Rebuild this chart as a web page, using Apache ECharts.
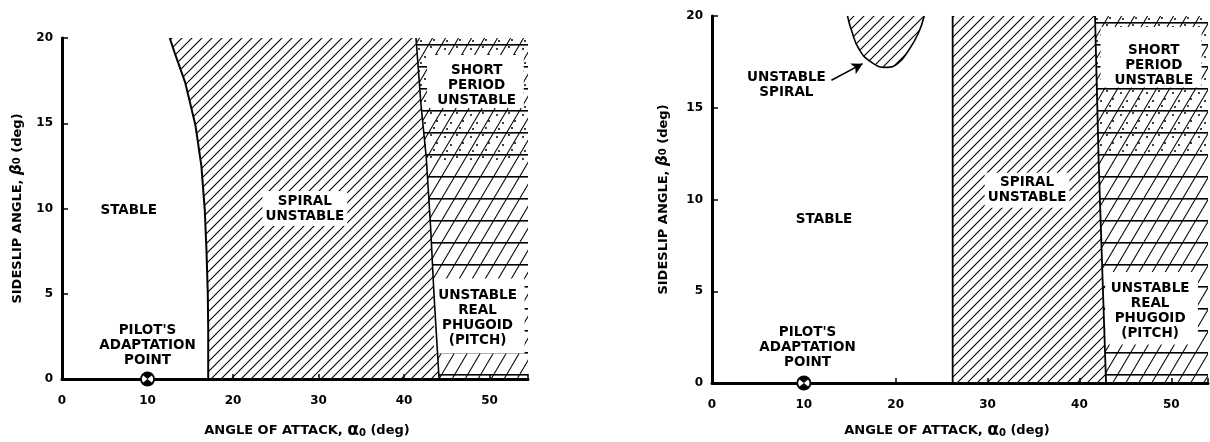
<!DOCTYPE html>
<html><head><meta charset="utf-8">
<script src="https://cdn.jsdelivr.net/npm/echarts@6/dist/echarts.min.js"></script>
<style>html,body{margin:0;padding:0;background:#fff}#c{width:1210px;height:442px}</style>
</head><body><div id="c"></div>
<script>
// ---------- data ----------
const yTickLabels = ['0','5','10','15','20'];
const xTickLabels = ['0','10','20','30','40','50'];
const xMaxLeft = 54.5, xMaxRight = 54, yMax = 20;

// Left panel boundaries (alpha, beta)
const leftStableBoundary = [[17.1,0],[17.1,3],[17.05,5],[16.9,7.5],[16.7,9.9],[16.3,12.5],[15.6,14.9],[14.4,17.4],[13.2,19.1],[12.6,20]];
const leftUnstableBoundary = [[41.4,20],[42.0,16],[42.6,13],[43.1,9],[43.5,5],[44.1,0]];
const leftDotLimit = 12.8;
const leftShortBox = [[42.7,15.9],[54.0,19.0]];
const leftPhugoidBox = [[43.5,1.5],[54.1,5.9]];
const leftPilotPoint = [10,0];

// Right panel boundaries
const rightSpiralPocket = [[14.75,20],[15.2,19.2],[16.0,18.2],[17.3,17.5],[19.0,17.2],[20.2,17.4],[21.5,18.2],[22.5,19.1],[23.1,20]];
const rightSpiralEdge = [[26.2,0],[26.2,20]];
const rightUnstableBoundary = [[41.7,20],[42.1,12],[42.5,6],[42.9,0]];
const rightDotLimit = 12.5;
const rightShortBox = [[42.3,16.1],[53.3,19.4]];
const rightPhugoidBox = [[42.8,2.1],[52.9,6.05]];
const rightPilotPoint = [10,0];
const rightArrow = [[13.0,16.5],[16.4,17.4]];

// Annotations: [alpha, beta, text]
const leftNotes = [
  [7.8, 9.9, 'STABLE'],
  [28.4, 10.0, 'SPIRAL\nUNSTABLE'],
  [48.5, 17.23, 'SHORT\nPERIOD\nUNSTABLE'],
  [48.6, 3.57, 'UNSTABLE\nREAL\nPHUGOID\n(PITCH)'],
  [10.0, 1.98, "PILOT'S\nADAPTATION\nPOINT"]
];
const rightNotes = [
  [12.2, 8.9, 'STABLE'],
  [34.3, 10.5, 'SPIRAL\nUNSTABLE'],
  [48.1, 17.28, 'SHORT\nPERIOD\nUNSTABLE'],
  [47.7, 3.95, 'UNSTABLE\nREAL\nPHUGOID\n(PITCH)'],
  [10.4, 1.91, "PILOT'S\nADAPTATION\nPOINT"],
  [8.1, 16.25, 'UNSTABLE\nSPIRAL']
];

// ---------- hatch patterns ----------
function makeCanvas(w,h){const c=document.createElement('canvas');c.width=w;c.height=h;return c;}
function diagPattern(s, lw){
  const c=makeCanvas(s,s), g=c.getContext('2d');
  g.strokeStyle='#000'; g.lineWidth=lw; g.lineCap='square';
  for(let i=-1;i<=1;i++){g.beginPath();g.moveTo(i*s,s);g.lineTo((i+1)*s,0);g.stroke();}
  return {image:c, repeat:'repeat'};
}
function gridDiagPattern(w,h,lw){
  const c=makeCanvas(w,h), g=c.getContext('2d');
  g.strokeStyle='#000'; g.lineWidth=lw;
  for(let i=-1;i<=1;i++){g.beginPath();g.moveTo(i*w,h);g.lineTo((i+1)*w,0);g.stroke();}
  g.lineWidth=1.6; g.beginPath(); g.moveTo(0,0.8); g.lineTo(w,0.8); g.stroke();
  return {image:c, repeat:'repeat'};
}
function dotPattern(){
  const c=makeCanvas(26,22), g=c.getContext('2d');
  g.fillStyle='#000';
  [[3,5],[15,3],[9,13],[21,11],[5,19],[18,18]].forEach(p=>{g.beginPath();g.arc(p[0],p[1],1.0,0,Math.PI*2);g.fill();});
  return {image:c, repeat:'repeat'};
}
const hatchSpiral = diagPattern(10, 1.1);
const hatchMixed = gridDiagPattern(13, 22, 1.1);
const hatchDots = dotPattern();

const FONT='"DejaVu Sans", "Liberation Sans", Arial, sans-serif';
const NOTE_FONT='bold 13.5px "DejaVu Sans", sans-serif';

// ---------- helpers ----------
function polygon(pts, fill, xi, yi, z){
  return {type:'custom', xAxisIndex:xi, yAxisIndex:yi, z:z, clip:true, silent:true, data:[0],
    renderItem:(p,api)=>({type:'polygon', shape:{points:pts.map(q=>api.coord(q))}, style:{fill:fill, stroke:'none'}})};
}
function rectPts(b){return [[b[0][0],b[0][1]],[b[1][0],b[0][1]],[b[1][0],b[1][1]],[b[0][0],b[1][1]]];}
function line(pts, xi, yi, w, z, smooth){
  return {type:'line', xAxisIndex:xi, yAxisIndex:yi, data:pts, symbol:'none', smooth:smooth||false, z:z, silent:true,
    lineStyle:{color:'#000', width:w}};
}
function notes(list, xi, yi){
  return {type:'custom', xAxisIndex:xi, yAxisIndex:yi, z:20, silent:true, clip:false, data:list.map(n=>[n[0],n[1]]),
    renderItem:(p,api)=>{
      const pt=api.coord([api.value(0),api.value(1)]);
      const txt=list[p.dataIndex][2];
      const spiral = txt.startsWith('SPIRAL');
      return {type:'text', x:pt[0], y:pt[1], style:{text:txt, fill:'#000', align:'center', verticalAlign:'middle',
        font:NOTE_FONT, lineHeight:15,
        backgroundColor: spiral ? '#fff' : null, padding: spiral ? [3,3,2,3] : 0}};
    }};
}
function pilot(pt, xi, yi){
  return {type:'custom', xAxisIndex:xi, yAxisIndex:yi, z:25, silent:true, clip:false, data:[pt],
    renderItem:(p,api)=>{
      const c=api.coord([api.value(0),api.value(1)]); const r=7.5;
      return {type:'group', children:[
        {type:'circle', shape:{cx:c[0],cy:c[1],r:r}, style:{fill:'#000'}},
        {type:'sector', shape:{cx:c[0],cy:c[1],r0:0,r:r-2,startAngle:Math.PI*0.78,endAngle:Math.PI*1.22}, style:{fill:'#fff'}},
        {type:'sector', shape:{cx:c[0],cy:c[1],r0:0,r:r-2,startAngle:-Math.PI*0.22,endAngle:Math.PI*0.22}, style:{fill:'#fff'}}
      ]};
    }};
}

// ---------- polygons ----------
const leftSpiralPoly = leftStableBoundary.concat(leftUnstableBoundary);
const leftMixedPoly = leftUnstableBoundary.concat([[xMaxLeft+1,0],[xMaxLeft+1,yMax]]);
const leftDotPoly = leftUnstableBoundary.filter(p=>p[1]>=leftDotLimit).concat([[42.7,leftDotLimit],[xMaxLeft+1,leftDotLimit],[xMaxLeft+1,yMax]]);
const rightSpiralPoly = [rightSpiralEdge[0],rightSpiralEdge[1]].concat(rightUnstableBoundary);
const rightMixedPoly = rightUnstableBoundary.concat([[xMaxRight+1,0],[xMaxRight+1,yMax]]);
const rightDotPoly = rightUnstableBoundary.filter(p=>p[1]>=rightDotLimit).concat([[42.2,rightDotLimit],[xMaxRight+1,rightDotLimit],[xMaxRight+1,yMax]]);

const RICH = {
  g:{fontSize:17, fontFamily:FONT, color:'#000'},
  b:{fontSize:15, fontStyle:'italic', fontFamily:FONT, color:'#000'},
  s:{fontSize:10, fontFamily:FONT, fontWeight:'bold', padding:[6,0,0,0], color:'#000'},
  sy:{fontSize:10, fontFamily:FONT, fontWeight:'bold', color:'#000'},
  d:{fontSize:13, fontFamily:FONT, fontWeight:'bold', color:'#000'}
};
function xAx(grid, max, gap, pad){
  return [{type:'value', gridIndex:grid, min:0, max:max, interval:10, z:10,
      name:'ANGLE OF ATTACK, {g|α}{s|0} {d|(deg)}', nameLocation:'middle', nameGap:gap,
      nameTextStyle:{color:'#000', fontFamily:FONT, fontWeight:'bold', fontSize:13, padding:pad, rich:RICH},
      axisLine:{show:true, lineStyle:{color:'#000', width:3}},
      axisTick:{show:true, inside:true, length:5, lineStyle:{color:'#000', width:1.5}},
      axisLabel:{color:'#000', fontFamily:FONT, fontWeight:'bold', fontSize:12, margin:16, formatter:v=>xTickLabels[v/10]},
      splitLine:{show:false}},
    {type:'value', gridIndex:grid, min:0, max:max, position:'top', z:10,
      axisLine:{show:true, lineStyle:{color:'#000', width:2}}, axisTick:{show:false}, axisLabel:{show:false}, splitLine:{show:false}}];
}
function yAx(grid, gap){
  return [{type:'value', gridIndex:grid, min:0, max:yMax, interval:5, z:10,
      name:'SIDESLIP ANGLE, {b|β}{sy|0} {d|(deg)}', nameLocation:'middle', nameGap:gap, nameRotate:90,
      nameTextStyle:{color:'#000', fontFamily:FONT, fontWeight:'bold', fontSize:13, rich:RICH},
      axisLine:{show:true, lineStyle:{color:'#000', width:3}},
      axisTick:{show:true, inside:true, length:6, lineStyle:{color:'#000', width:1.5}},
      axisLabel:{color:'#000', fontFamily:FONT, fontWeight:'bold', fontSize:12, margin:9, formatter:v=>yTickLabels[v/5]},
      splitLine:{show:false}},
    {type:'value', gridIndex:grid, min:0, max:yMax, position:'right', z:10,
      axisLine:{show:true, lineStyle:{color:'#000', width:1.5}}, axisTick:{show:false}, axisLabel:{show:false}, splitLine:{show:false}}];
}

const option = {
  animation:false, backgroundColor:'#fff',
  grid:[{left:62, top:38, width:466, height:341, containLabel:false, outerBoundsMode:'none'},
        {left:712, top:16, width:496, height:367, containLabel:false, outerBoundsMode:'none'}],
  xAxis: xAx(0, xMaxLeft, 43, [0,0,0,24]).concat(xAx(1, xMaxRight, 39, [0,26,0,0])),
  yAxis: yAx(0, 37).concat(yAx(1, 41)),
  series: [
    // left panel
    polygon(leftSpiralPoly, hatchSpiral, 0, 0, 2),
    polygon(leftMixedPoly, hatchMixed, 0, 0, 2),
    polygon(leftDotPoly, hatchDots, 0, 0, 3),
    polygon(rectPts(leftShortBox), '#fff', 0, 0, 4),
    polygon(rectPts(leftPhugoidBox), '#fff', 0, 0, 4),
    line(leftStableBoundary, 0, 0, 2, 6, false),
    line(leftUnstableBoundary, 0, 0, 1.6, 6, false),
    notes(leftNotes, 0, 0),
    pilot(leftPilotPoint, 0, 0),
    // right panel
    {type:'line', xAxisIndex:2, yAxisIndex:2, data:rightSpiralPocket, symbol:'none', smooth:true, z:5, silent:true,
      lineStyle:{color:'#000', width:1.6}, areaStyle:{origin:'end', color:hatchSpiral, opacity:1}},
    polygon(rightSpiralPoly, hatchSpiral, 2, 2, 2),
    polygon(rightMixedPoly, hatchMixed, 2, 2, 2),
    polygon(rightDotPoly, hatchDots, 2, 2, 3),
    polygon(rectPts(rightShortBox), '#fff', 2, 2, 4),
    polygon(rectPts(rightPhugoidBox), '#fff', 2, 2, 4),
    line(rightSpiralEdge, 2, 2, 1.8, 6, false),
    line(rightUnstableBoundary, 2, 2, 1.8, 6, false),
    {type:'line', xAxisIndex:2, yAxisIndex:2, data:[], z:7, silent:true,
      markLine:{silent:true, symbol:['none','arrow'], symbolSize:[9,11], label:{show:false},
        lineStyle:{color:'#000', width:1.5, type:'solid'},
        data:[[{coord:rightArrow[0]},{coord:rightArrow[1]}]]}},
    notes(rightNotes, 2, 2),
    pilot(rightPilotPoint, 2, 2)
  ]
};
const chart = echarts.init(document.getElementById('c'), null, {renderer:'canvas'});
chart.setOption(option);
</script></body></html>
